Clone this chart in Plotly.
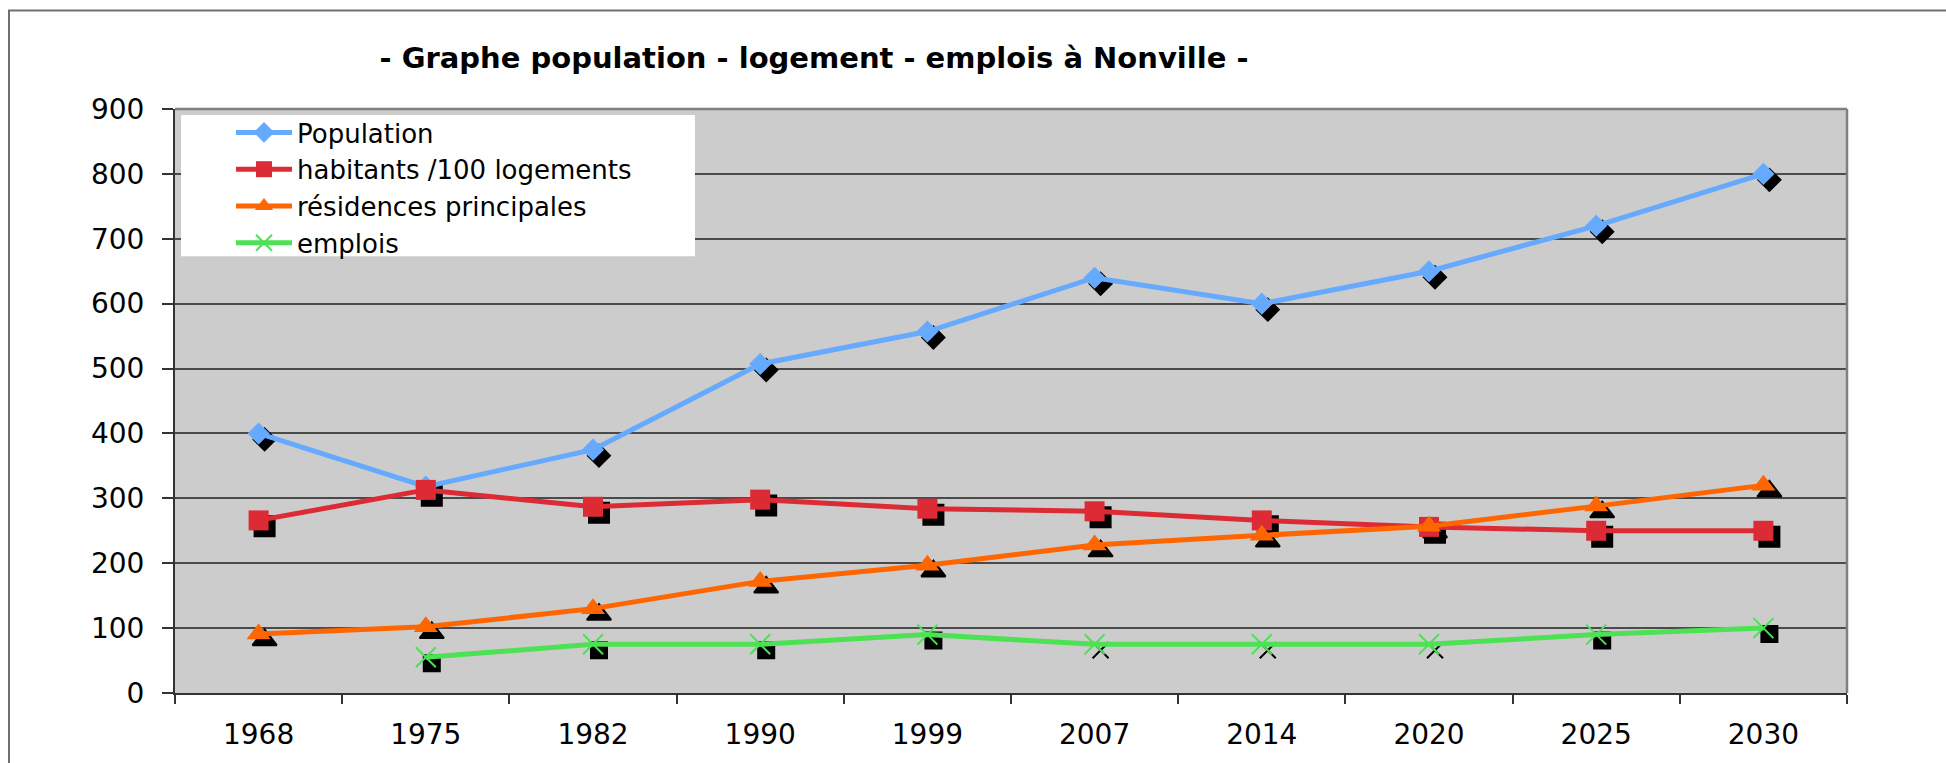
import plotly.graph_objects as go

# ---- data -------------------------------------------------------------
years = ["1968", "1975", "1982", "1990", "1999", "2007", "2014", "2020", "2025", "2030"]
population = [400, 318, 375, 507, 557, 640, 600, 650, 720, 800]
habitants_100_logements = [266, 313, 287, 298, 284, 280, 266, 256, 250, 250]
residences_principales = [91, 102, 130, 172, 197, 228, 243, 257, 288, 320]
emplois = [None, 55, 75, 75, 90, 75, 75, 75, 90, 100]

series_names = ["Population", "habitants /100 logements", "résidences principales", "emplois"]
y_max = 900
y_step = 100

# ---- geometry / style ---------------------------------------------------
W, H = 1946, 763
ML, MR, MT, MB = 175, 99, 109, 67
PLOT_W = W - ML - MR
PLOT_H = H - MT - MB
FONT = "DejaVu Sans"

colors = ["#66AAFF", "#DC2B34", "#FF6600", "#4DE154"]
symbols = ["diamond", "square", "triangle-up", "x-thin"]
sizes = [17, 20, 21, 20]
shadow_symbols = [
    "diamond",
    "square",
    "triangle-up",
    ["square", "square", "square", "square", "square",
     "x-thin", "x-thin", "x-thin", "square", "square"],
]
shadow_sizes = [17, 20, 21, 16]

values = [population, habitants_100_logements, residences_principales, emplois]

# drop shadow: same points on a hidden axis pair shifted by a few pixels
SHADOW_PX = 6
n = len(years)
dx = SHADOW_PX * n / PLOT_W
dy = SHADOW_PX * y_max / PLOT_H

fig = go.Figure()

for vals, sym, size in zip(values, shadow_symbols, shadow_sizes):
    fig.add_trace(go.Scatter(
        x=years, y=vals, mode="markers", xaxis="x", yaxis="y",
        showlegend=False, hoverinfo="skip",
        marker=dict(symbol=sym, size=size, color="black",
                    line=dict(color="black", width=2)),
    ))

for name, vals, col, sym, size in zip(series_names, values, colors, symbols, sizes):
    thin = sym == "x-thin"
    fig.add_trace(go.Scatter(
        x=years, y=vals, name=name, mode="lines+markers",
        xaxis="x2", yaxis="y2",
        line=dict(color=col, width=5),
        marker=dict(symbol=sym, size=size, color=col,
                    line=dict(color=col, width=2 if thin else 0)),
        connectgaps=False,
    ))

tick_font = dict(family=FONT, size=28, color="black")

fig.update_layout(
    width=W, height=H,
    margin=dict(l=ML, r=MR, t=MT, b=MB, pad=0),
    paper_bgcolor="white",
    plot_bgcolor="#CCCCCC",
    font=dict(family=FONT, color="black"),
    title=dict(
        text="<b>- Graphe population - logement - emplois à Nonville -</b>",
        font=dict(family=FONT, size=29, color="black"),
        x=814 / W, xanchor="center", xref="container",
        y=1 - 57.5 / H, yanchor="middle", yref="container",
    ),
    xaxis=dict(type="category", categoryorder="array", categoryarray=years,
               range=[-0.5 - dx, n - 0.5 - dx], visible=False, fixedrange=True),
    yaxis=dict(range=[dy, y_max + dy], visible=False, fixedrange=True),
    xaxis2=dict(type="category", categoryorder="array", categoryarray=years,
                range=[-0.5, n - 0.5], overlaying="x", anchor="y2",
                tickson="boundaries", ticks="outside", ticklen=9, tickwidth=1.5,
                tickcolor="#333333", showline=True, linecolor="#333333", linewidth=2,
                showgrid=False, zeroline=False, tickfont=tick_font,
                ticklabelstandoff=15),
    yaxis2=dict(range=[0, y_max], dtick=y_step, tick0=0, overlaying="y", anchor="x2",
                side="left", ticks="outside", ticklen=11, tickwidth=1.5,
                tickcolor="#333333", showline=True, linecolor="#333333", linewidth=2,
                showgrid=True, gridcolor="#4A4A4A", gridwidth=1.5, zeroline=False,
                tickfont=tick_font, ticklabelstandoff=12),
    legend=dict(
        x=(231 - ML) / PLOT_W, y=(H - MB - 109) / PLOT_H,
        xanchor="left", yanchor="top",
        bgcolor="rgba(0,0,0,0)", borderwidth=0,
        font=dict(family=FONT, size=26, color="black"),
        itemwidth=56, tracegroupgap=0,
    ),
    shapes=[
        # outer chart frame (top and left edges; continues past the page)
        dict(type="rect", xref="paper", yref="paper",
             x0=(9 - ML) / PLOT_W, x1=(W + 20 - ML) / PLOT_W,
             y0=(H - MB - (H + 20)) / PLOT_H, y1=(H - MB - 10) / PLOT_H,
             line=dict(color="#707070", width=2), fillcolor="rgba(0,0,0,0)",
             layer="below"),
        # white legend panel
        dict(type="rect", xref="paper", yref="paper",
             x0=(181 - ML) / PLOT_W, x1=(695 - ML) / PLOT_W,
             y0=(H - MB - 257) / PLOT_H, y1=(H - MB - 115) / PLOT_H,
             line=dict(width=0), fillcolor="white", layer="above"),
        # grey frame on top and right of the plot area
        dict(type="line", xref="paper", yref="paper", x0=0, x1=1, y0=1, y1=1,
             line=dict(color="#808080", width=2.5), layer="above"),
        dict(type="line", xref="paper", yref="paper", x0=1, x1=1, y0=0, y1=1,
             line=dict(color="#808080", width=2.5), layer="above"),
    ],
)

fig.write_html("out.html")
